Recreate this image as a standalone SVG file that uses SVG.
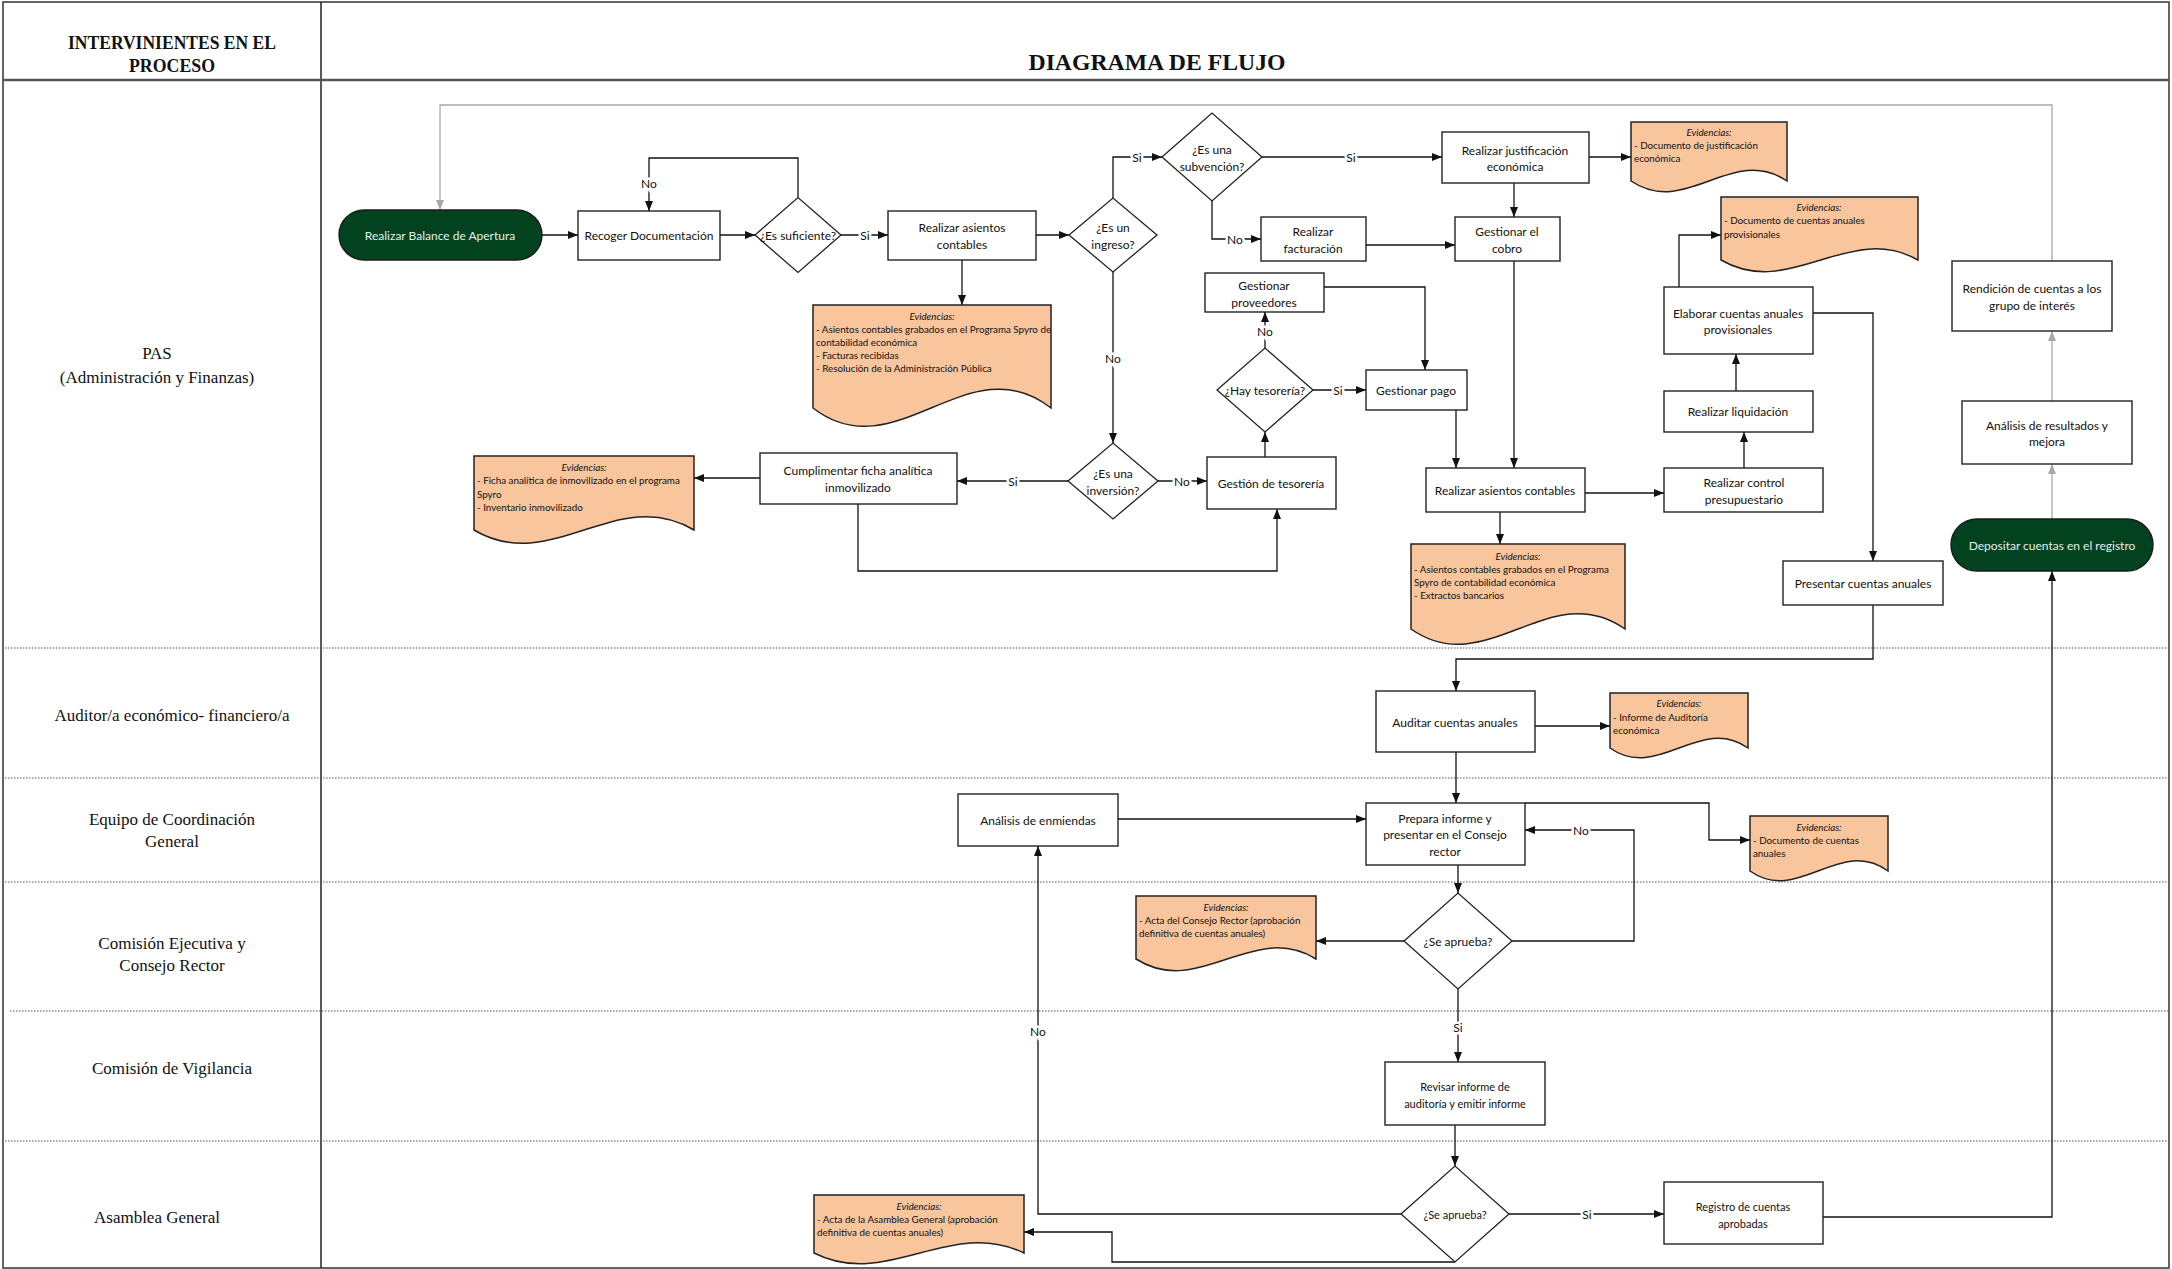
<svg xmlns="http://www.w3.org/2000/svg" width="2172" height="1269" viewBox="0 0 2172 1269">
<style>
  .frame{fill:none;stroke:#333;stroke-width:1.5}
  .sep{stroke:#555;stroke-width:2.5}
  .div{stroke:#222;stroke-width:1.5}
  .lane{stroke:#555;stroke-width:1.2;stroke-dasharray:1.5 1.5}
  .hdr{font-family:"Liberation Serif",serif;font-weight:bold;font-size:19px;fill:#111;text-anchor:middle;dominant-baseline:central}
  .ttl{font-size:23px}
  .lbl{font-family:"Liberation Serif",serif;font-size:17px;fill:#111;text-anchor:middle;dominant-baseline:central}
  .box{fill:#fff;stroke:#222;stroke-width:1.4}
  .term{fill:#02421F;stroke:#1b1b1b;stroke-width:1.4}
  .dia{fill:#fff;stroke:#222;stroke-width:1.3}
  .t{font-family:Lato,"Liberation Sans",sans-serif;font-size:12px;fill:#111;text-anchor:middle;dominant-baseline:central}
  .s{font-size:11px}
  .tw{fill:#E4F0E7}
  .doc{fill:#F8C59D;stroke:#222;stroke-width:1.5}
  .e{font-family:Lato,"Liberation Sans",sans-serif;font-size:9.8px;fill:#111;dominant-baseline:central}
  .ei{font-style:italic;text-anchor:middle}
  .c{fill:none;stroke:#111;stroke-width:1.3;marker-end:url(#ah)}
  .g{stroke:#A8A8A8;marker-end:url(#ahg)}
  .cl{font-family:Lato,"Liberation Sans",sans-serif;font-size:12px;text-anchor:middle;dominant-baseline:central;fill:#111;stroke:#fff;stroke-width:5;paint-order:stroke}
</style>
<defs>
  <marker id="ah" markerUnits="userSpaceOnUse" markerWidth="10" markerHeight="8" refX="10" refY="4" orient="auto">
    <path d="M0,0 L10,4 L0,8 z" fill="#111"/>
  </marker>
  <marker id="ahg" markerUnits="userSpaceOnUse" markerWidth="10" markerHeight="8" refX="10" refY="4" orient="auto">
    <path d="M0,0 L10,4 L0,8 z" fill="#A8A8A8"/>
  </marker>
</defs>

<!-- swimlane frame -->
<g id="frame">
  <rect class="frame" x="3" y="2" width="2166" height="1266"/>
  <line class="div" x1="321" y1="2" x2="321" y2="1268"/>
  <line class="sep" x1="3" y1="80" x2="2169" y2="80"/>
  <line class="lane" x1="5" y1="648" x2="2169" y2="648"/>
  <line class="lane" x1="5" y1="778" x2="2169" y2="778"/>
  <line class="lane" x1="5" y1="882" x2="2169" y2="882"/>
  <line class="lane" x1="10" y1="1011" x2="2169" y2="1011"/>
  <line class="lane" x1="5" y1="1141" x2="2169" y2="1141"/>
  <text class="hdr" x="172" y="42" textLength="208" lengthAdjust="spacingAndGlyphs">INTERVINIENTES EN EL</text>
  <text class="hdr" x="172" y="65" textLength="86" lengthAdjust="spacingAndGlyphs">PROCESO</text>
  <text class="hdr ttl" x="1157" y="62" textLength="257" lengthAdjust="spacingAndGlyphs">DIAGRAMA DE FLUJO</text>
  <text class="lbl" x="157" y="353">PAS</text>
  <text class="lbl" x="157" y="377">(Administración y Finanzas)</text>
  <text class="lbl" x="172" y="715">Auditor/a económico- financiero/a</text>
  <text class="lbl" x="172" y="819">Equipo de Coordinación</text>
  <text class="lbl" x="172" y="841">General</text>
  <text class="lbl" x="172" y="943">Comisión Ejecutiva y</text>
  <text class="lbl" x="172" y="965">Consejo Rector</text>
  <text class="lbl" x="172" y="1068">Comisión de Vigilancia</text>
  <text class="lbl" x="157" y="1217">Asamblea General</text>
</g>

<!-- connectors -->
<g id="connectors">
  <path class="c" d="M542,235 H578"/>
  <path class="c" d="M720,235 H755"/>
  <path class="c" d="M798,197.5 V158 H649 V211"/>
  <path class="c" d="M841,235 H888"/>
  <path class="c" d="M1036,235 H1069"/>
  <path class="c" d="M962,260 V305"/>
  <path class="c" d="M1113,198 V157 H1162"/>
  <path class="c" d="M1262,157 H1442"/>
  <path class="c" d="M1589,157 H1631"/>
  <path class="c" d="M1212,201 V239 H1261"/>
  <path class="c" d="M1366,245 H1455"/>
  <path class="c" d="M1514,183 V217"/>
  <path class="c" d="M1514,261 V468"/>
  <path class="c" d="M1113,272 V443"/>
  <path class="c" d="M1068,481 H957"/>
  <path class="c" d="M760,478 H694"/>
  <path class="c" d="M1158,481 H1207"/>
  <path class="c" d="M858,504 V571 H1277 V509"/>
  <path class="c" d="M1265,457 V432"/>
  <path class="c" d="M1265,348 V312"/>
  <path class="c" d="M1313,390 H1366"/>
  <path class="c" d="M1324,287 H1425 V370"/>
  <path class="c" d="M1456,410 V468"/>
  <path class="c" d="M1500,512 V544"/>
  <path class="c" d="M1585,493 H1664"/>
  <path class="c" d="M1744,468 V432"/>
  <path class="c" d="M1736,391 V354"/>
  <path class="c" d="M1679,287 V235 H1721"/>
  <path class="c" d="M1813,313 H1873 V561"/>
  <path class="c" d="M1873,605 V659 H1456 V691"/>
  <path class="c" d="M1535,726 H1610"/>
  <path class="c" d="M1456,752 V803"/>
  <path class="c" d="M1525,803 H1709 V840 H1750"/>
  <path class="c" d="M1118,819 H1366"/>
  <path class="c" d="M1458,865 V893"/>
  <path class="c" d="M1512,941 H1634 V830 H1525"/>
  <path class="c" d="M1404,941 H1316"/>
  <path class="c" d="M1458,989 V1062"/>
  <path class="c" d="M1455,1125 V1166"/>
  <path class="c" d="M1401,1214 H1038 V846"/>
  <path class="c" d="M1455,1262 H1112 V1232 H1024"/>
  <path class="c" d="M1509,1214 H1664"/>
  <path class="c" d="M1823,1217 H2052 V571"/>
  <path class="c g" d="M2052,519 V464"/>
  <path class="c g" d="M2052,401 V331"/>
  <path class="c g" d="M2052,261 V105 H440 V210"/>
  <!-- branch labels -->
  <text class="cl" x="649" y="183">No</text>
  <text class="cl" x="865" y="235">Si</text>
  <text class="cl" x="1137" y="157">Si</text>
  <text class="cl" x="1351" y="157">Si</text>
  <text class="cl" x="1235" y="239">No</text>
  <text class="cl" x="1113" y="358">No</text>
  <text class="cl" x="1013" y="481">Si</text>
  <text class="cl" x="1182" y="481">No</text>
  <text class="cl" x="1265" y="331">No</text>
  <text class="cl" x="1338" y="390">Si</text>
  <text class="cl" x="1581" y="830">No</text>
  <text class="cl" x="1458" y="1027">Si</text>
  <text class="cl" x="1038" y="1031">No</text>
  <text class="cl" x="1587" y="1214">Si</text>
</g>

<!-- PAS lane -->
<g id="balance-apertura">
  <rect class="term" x="339" y="210" width="203" height="50" rx="25"/>
  <text class="t tw" x="440" y="235">Realizar Balance de Apertura</text>
</g>
<g id="recoger-documentacion">
  <rect class="box" x="578" y="211" width="142" height="49"/>
  <text class="t" x="649" y="235">Recoger Documentación</text>
</g>
<g id="es-suficiente">
  <polygon class="dia" points="755,235 798,197.5 841,235 798,272.5"/>
  <text class="t" x="798" y="235">¿Es suficiente?</text>
</g>
<g id="asientos-contables-1">
  <rect class="box" x="888" y="211" width="148" height="49"/>
  <text class="t" x="962" y="227">Realizar asientos</text>
  <text class="t" x="962" y="244">contables</text>
</g>
<g id="evidencias-1">
  <path class="doc" d="M813,305 H1051 V408 C968,343 896,472 813,408 Z"/>
  <text class="e ei" x="932" y="316">Evidencias:</text>
  <text class="e" x="816" y="329">- Asientos contables grabados en el Programa Spyro de</text>
  <text class="e" x="816" y="342">contabilidad económica</text>
  <text class="e" x="816" y="355">- Facturas recibidas</text>
  <text class="e" x="816" y="368">- Resolución de la Administración Pública</text>
</g>
<g id="es-ingreso">
  <polygon class="dia" points="1069,235 1113,198 1157,235 1113,272"/>
  <text class="t" x="1113" y="227">¿Es un</text>
  <text class="t" x="1113" y="244">ingreso?</text>
</g>
<g id="es-subvencion">
  <polygon class="dia" points="1162,157 1212,113 1262,157 1212,201"/>
  <text class="t" x="1212" y="149">¿Es una</text>
  <text class="t" x="1212" y="166">subvención?</text>
</g>
<g id="justificacion-economica">
  <rect class="box" x="1442" y="132" width="147" height="51"/>
  <text class="t" x="1515" y="150">Realizar justificación</text>
  <text class="t" x="1515" y="166">económica</text>
</g>
<g id="evidencias-2">
  <path class="doc" d="M1631,122 H1787 V181 C1732,144 1686,218 1631,181 Z"/>
  <text class="e ei" x="1709" y="132">Evidencias:</text>
  <text class="e" x="1634" y="145">- Documento de justificación</text>
  <text class="e" x="1634" y="158">económica</text>
</g>
<g id="realizar-facturacion">
  <rect class="box" x="1261" y="217" width="105" height="44"/>
  <text class="t" x="1313" y="231">Realizar</text>
  <text class="t" x="1313" y="248">facturación</text>
</g>
<g id="gestionar-cobro">
  <rect class="box" x="1455" y="217" width="105" height="44"/>
  <text class="t" x="1507" y="231">Gestionar el</text>
  <text class="t" x="1507" y="248">cobro</text>
</g>
<g id="gestionar-proveedores">
  <rect class="box" x="1205" y="273" width="119" height="39"/>
  <text class="t" x="1264" y="285">Gestionar</text>
  <text class="t" x="1264" y="302">proveedores</text>
</g>
<g id="hay-tesoreria">
  <polygon class="dia" points="1217,390 1265,348 1313,390 1265,432"/>
  <text class="t" x="1265" y="390">¿Hay tesorería?</text>
</g>
<g id="gestionar-pago">
  <rect class="box" x="1366" y="370" width="101" height="40"/>
  <text class="t" x="1416" y="390">Gestionar pago</text>
</g>
<g id="es-inversion">
  <polygon class="dia" points="1068,481 1113,443 1158,481 1113,519"/>
  <text class="t" x="1113" y="473">¿Es una</text>
  <text class="t" x="1113" y="490">inversión?</text>
</g>
<g id="gestion-tesoreria">
  <rect class="box" x="1207" y="457" width="129" height="52"/>
  <text class="t" x="1271" y="483">Gestión de tesorería</text>
</g>
<g id="ficha-inmovilizado">
  <rect class="box" x="760" y="453" width="197" height="51"/>
  <text class="t" x="858" y="470">Cumplimentar ficha analítica</text>
  <text class="t" x="858" y="487">inmovilizado</text>
</g>
<g id="evidencias-inmovilizado">
  <path class="doc" d="M474,456 H694 V530 C617,484 551,576 474,530 Z"/>
  <text class="e ei" x="584" y="467">Evidencias:</text>
  <text class="e" x="477" y="480">- Ficha analítica de inmovilizado en el programa</text>
  <text class="e" x="477" y="494">Spyro</text>
  <text class="e" x="477" y="507">- Inventario inmovilizado</text>
</g>
<g id="asientos-contables-2">
  <rect class="box" x="1426" y="468" width="159" height="44"/>
  <text class="t" x="1505" y="490">Realizar asientos contables</text>
</g>
<g id="evidencias-3">
  <path class="doc" d="M1411,544 H1625 V629 C1550,576 1486,682 1411,629 Z"/>
  <text class="e ei" x="1518" y="556">Evidencias:</text>
  <text class="e" x="1414" y="569">- Asientos contables grabados en el Programa</text>
  <text class="e" x="1414" y="582">Spyro de contabilidad económica</text>
  <text class="e" x="1414" y="595">- Extractos bancarios</text>
</g>
<g id="control-presupuestario">
  <rect class="box" x="1664" y="468" width="159" height="44"/>
  <text class="t" x="1744" y="482">Realizar control</text>
  <text class="t" x="1744" y="499">presupuestario</text>
</g>
<g id="realizar-liquidacion">
  <rect class="box" x="1664" y="391" width="149" height="41"/>
  <text class="t" x="1738" y="411">Realizar liquidación</text>
</g>
<g id="cuentas-provisionales">
  <rect class="box" x="1664" y="287" width="149" height="67"/>
  <text class="t" x="1738" y="313">Elaborar cuentas anuales</text>
  <text class="t" x="1738" y="329">provisionales</text>
</g>
<g id="evidencias-4">
  <path class="doc" d="M1721,197 H1918 V260 C1849,221 1790,300 1721,260 Z"/>
  <text class="e ei" x="1819" y="207">Evidencias:</text>
  <text class="e" x="1724" y="220">- Documento de cuentas anuales</text>
  <text class="e" x="1724" y="234">provisionales</text>
</g>
<g id="presentar-cuentas">
  <rect class="box" x="1783" y="561" width="160" height="44"/>
  <text class="t" x="1863" y="583">Presentar cuentas anuales</text>
</g>
<g id="depositar-registro">
  <rect class="term" x="1951" y="519" width="202" height="52" rx="26"/>
  <text class="t tw" x="2052" y="545">Depositar cuentas en el registro</text>
</g>
<g id="analisis-resultados">
  <rect class="box" x="1962" y="401" width="170" height="63"/>
  <text class="t" x="2047" y="425">Análisis de resultados y</text>
  <text class="t" x="2047" y="441">mejora</text>
</g>
<g id="rendicion-cuentas">
  <rect class="box" x="1952" y="261" width="160" height="70"/>
  <text class="t" x="2032" y="288">Rendición de cuentas a los</text>
  <text class="t" x="2032" y="305">grupo de interés</text>
</g>

<!-- Auditor lane -->
<g id="auditar-cuentas">
  <rect class="box" x="1376" y="691" width="159" height="61"/>
  <text class="t" x="1455" y="722">Auditar cuentas anuales</text>
</g>
<g id="evidencias-auditoria">
  <path class="doc" d="M1610,693 H1748 V748 C1700,714 1658,782 1610,748 Z"/>
  <text class="e ei" x="1679" y="703">Evidencias:</text>
  <text class="e" x="1613" y="717">- Informe de Auditoría</text>
  <text class="e" x="1613" y="730">económica</text>
</g>

<!-- Equipo de Coordinación lane -->
<g id="analisis-enmiendas">
  <rect class="box" x="958" y="794" width="160" height="52"/>
  <text class="t" x="1038" y="820">Análisis de enmiendas</text>
</g>
<g id="prepara-informe">
  <rect class="box" x="1366" y="803" width="159" height="62"/>
  <text class="t" x="1445" y="818">Prepara informe y</text>
  <text class="t" x="1445" y="834.5">presentar en el Consejo</text>
  <text class="t" x="1445" y="851">rector</text>
</g>
<g id="evidencias-cuentas-anuales">
  <path class="doc" d="M1750,816 H1888 V871 C1840,836 1798,905 1750,871 Z"/>
  <text class="e ei" x="1819" y="827">Evidencias:</text>
  <text class="e" x="1753" y="840">- Documento de cuentas</text>
  <text class="e" x="1753" y="853">anuales</text>
</g>

<!-- Comisión Ejecutiva lane -->
<g id="se-aprueba-1">
  <polygon class="dia" points="1404,941 1458,893 1512,941 1458,989"/>
  <text class="t" x="1458" y="941">¿Se aprueba?</text>
</g>
<g id="evidencias-consejo">
  <path class="doc" d="M1136,896 H1316 V959 C1253,920 1199,999 1136,959 Z"/>
  <text class="e ei" x="1226" y="907">Evidencias:</text>
  <text class="e" x="1139" y="920">- Acta del Consejo Rector (aprobación</text>
  <text class="e" x="1139" y="933">definitiva de cuentas anuales)</text>
</g>

<!-- Comisión de Vigilancia lane -->
<g id="revisar-informe">
  <rect class="box" x="1385" y="1062" width="160" height="63"/>
  <text class="t s" x="1465" y="1086">Revisar informe de</text>
  <text class="t s" x="1465" y="1103">auditoría y emitir informe</text>
</g>

<!-- Asamblea General lane -->
<g id="se-aprueba-2">
  <polygon class="dia" points="1401,1214 1455,1166 1509,1214 1455,1262"/>
  <text class="t s" x="1455" y="1214">¿Se aprueba?</text>
</g>
<g id="registro-cuentas">
  <rect class="box" x="1664" y="1182" width="159" height="62"/>
  <text class="t s" x="1743" y="1206">Registro de cuentas</text>
  <text class="t s" x="1743" y="1223">aprobadas</text>
</g>
<g id="evidencias-asamblea">
  <path class="doc" d="M814,1195 H1024 V1253 C950,1217 887,1290 814,1253 Z"/>
  <text class="e ei" x="919" y="1206">Evidencias:</text>
  <text class="e" x="817" y="1219">- Acta de la Asamblea General (aprobación</text>
  <text class="e" x="817" y="1232">definitiva de cuentas anuales)</text>
</g>
</svg>
